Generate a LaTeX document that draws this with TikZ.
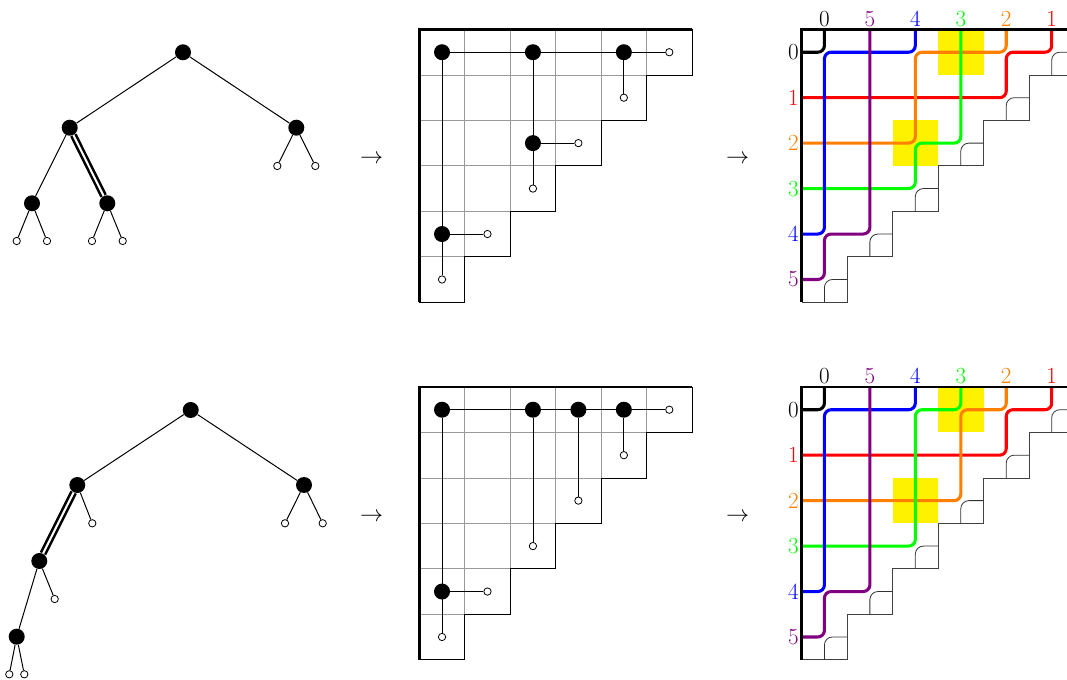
\documentclass[tikz,border=0pt]{standalone}
\usepackage{fontspec}
\begin{document}
\begin{tikzpicture}[x=0.75pt,y=-0.75pt,
 bdot/.style={circle,fill=black,inner sep=0pt,minimum size=12pt},
 wdot/.style={circle,draw=black,fill=white,inner sep=0pt,minimum size=5.5pt,line width=0.6pt},
 tedge/.style={line width=0.75pt},
 dedge/.style={double=white,line width=1.9pt,double distance=1.5pt},
 gridin/.style={black!40,line width=0.6pt},
 gridout/.style={black,line width=0.6pt},
 thickframe/.style={line width=2.2pt},
 conn/.style={line width=0.6pt},
 pipe/.style={line width=2.3pt,rounded corners=5pt},
 tileline/.style={black!75,line width=0.6pt},
 elbowline/.style={black!80,line width=0.6pt,rounded corners=6pt},
 lab/.style={font=\fontsize{17.3}{20}\selectfont},
 toplab/.style={lab,anchor=base,inner sep=0pt,yshift=2.5pt},
 leftlab/.style={lab,anchor=east,inner sep=0pt,xshift=-2pt},
 hl/.style={fill=yellow}]
\useasboundingbox (0,0) rectangle (1067,680);
\clip (0,0) rectangle (1067,680);

% ---------------- top tree ----------------
\node[bdot] (tr) at (183,52.3) {};
\node[bdot] (ta) at (69.7,127.7) {};
\node[bdot] (tb) at (296.3,127.7) {};
\node[bdot] (taa) at (32,203.3) {};
\node[bdot] (tab) at (107.3,203.3) {};
\node[wdot] (taa1) at (16.7,241) {};
\node[wdot] (taa2) at (47,241) {};
\node[wdot] (tab1) at (92,241) {};
\node[wdot] (tab2) at (122.7,241) {};
\node[wdot] (tb1) at (277.3,166) {};
\node[wdot] (tb2) at (315.3,166) {};
\draw[tedge] (tr) -- (ta);
\draw[tedge] (tr) -- (tb);
\draw[tedge] (ta) -- (taa);
\draw[dedge] (ta) -- (tab);
\draw[tedge] (taa) -- (taa1);
\draw[tedge] (taa) -- (taa2);
\draw[tedge] (tab) -- (tab1);
\draw[tedge] (tab) -- (tab2);
\draw[tedge] (tb) -- (tb1);
\draw[tedge] (tb) -- (tb2);

% ---------------- bottom tree ----------------
\node[bdot] (br) at (190.7,410) {};
\node[bdot] (ba) at (77.3,485) {};
\node[bdot] (bb) at (304,485) {};
\node[wdot] (ba2) at (92.3,523.3) {};
\node[wdot] (bb1) at (285,523.3) {};
\node[wdot] (bb2) at (322.7,523.3) {};
\node[bdot] (baa) at (39.3,561) {};
\node[wdot] (baa2) at (54.7,599) {};
\node[bdot] (baaa) at (16.7,636.7) {};
\node[wdot] (baaa1) at (9.3,674.3) {};
\node[wdot] (baaa2) at (24.3,674.3) {};
\draw[tedge] (br) -- (ba);
\draw[tedge] (br) -- (bb);
\draw[tedge] (ba) -- (ba2);
\draw[tedge] (bb) -- (bb1);
\draw[tedge] (bb) -- (bb2);
\draw[dedge] (ba) -- (baa);
\draw[tedge] (baa) -- (baa2);
\draw[tedge] (baa) -- (baaa);
\draw[tedge] (baaa) -- (baaa1);
\draw[tedge] (baaa) -- (baaa2);

% ---------------- arrows ----------------
\node[lab] (arr1) at (371.7,159.3) {$\rightarrow$};
\node[lab] (arr2) at (737.7,159.3) {$\rightarrow$};
\node[lab] (arr3) at (371.7,516.8) {$\rightarrow$};
\node[lab] (arr4) at (737.7,516.8) {$\rightarrow$};

% ---------------- middle grids ----------------
\foreach \yy in {22.125,290.25}{
\begin{scope}[xshift=314.475pt,yshift=-\yy pt,x=34.09pt,y=-34.09pt]
  \foreach \k in {1,...,5}{
    \draw[gridin] (0,\k) -- ({6-\k},\k);
    \draw[gridin] (\k,0) -- (\k,{6-\k});
  }
  \draw[gridout] (6,0) -- (6,1) -- (5,1) -- (5,2) -- (4,2) -- (4,3) -- (3,3) -- (3,4) -- (2,4) -- (2,5) -- (1,5) -- (1,6) -- (0,6);
  \draw[thickframe] (0,6) -- (0,0) -- (6,0);
\end{scope}
}

\begin{scope}[xshift=314.475pt,yshift=-22.125pt,x=34.09pt,y=-34.09pt]
  \node[bdot] (ma00) at (0.5,0.5) {};
  \node[bdot] (ma02) at (2.5,0.5) {};
  \node[bdot] (ma04) at (4.5,0.5) {};
  \node[bdot] (ma22) at (2.5,2.5) {};
  \node[bdot] (ma40) at (0.5,4.5) {};
  \node[wdot] (ma05) at (5.5,0.5) {};
  \node[wdot] (ma14) at (4.5,1.5) {};
  \node[wdot] (ma23) at (3.5,2.5) {};
  \node[wdot] (ma32) at (2.5,3.5) {};
  \node[wdot] (ma41) at (1.5,4.5) {};
  \node[wdot] (ma50) at (0.5,5.5) {};
  \draw[conn] (ma00) -- (ma05);
  \draw[conn] (ma00) -- (ma50);
  \draw[conn] (ma02) -- (ma32);
  \draw[conn] (ma22) -- (ma23);
  \draw[conn] (ma04) -- (ma14);
  \draw[conn] (ma40) -- (ma41);
\end{scope}

\begin{scope}[xshift=314.475pt,yshift=-290.25pt,x=34.09pt,y=-34.09pt]
  \node[bdot] (mb00) at (0.5,0.5) {};
  \node[bdot] (mb02) at (2.5,0.5) {};
  \node[bdot] (mb03) at (3.5,0.5) {};
  \node[bdot] (mb04) at (4.5,0.5) {};
  \node[bdot] (mb40) at (0.5,4.5) {};
  \node[wdot] (mb05) at (5.5,0.5) {};
  \node[wdot] (mb14) at (4.5,1.5) {};
  \node[wdot] (mb23) at (3.5,2.5) {};
  \node[wdot] (mb32) at (2.5,3.5) {};
  \node[wdot] (mb41) at (1.5,4.5) {};
  \node[wdot] (mb50) at (0.5,5.5) {};
  \draw[conn] (mb00) -- (mb05);
  \draw[conn] (mb00) -- (mb50);
  \draw[conn] (mb02) -- (mb32);
  \draw[conn] (mb03) -- (mb23);
  \draw[conn] (mb04) -- (mb14);
  \draw[conn] (mb40) -- (mb41);
\end{scope}

% ---------------- pipe dreams: common parts ----------------
\foreach \yy in {22.125,290.25}{
\begin{scope}[xshift=601.275pt,yshift=-\yy pt,x=34.09pt,y=-34.09pt]
  \fill[hl] (3,0) rectangle (4,1);
  \fill[hl] (2,2) rectangle (3,3);
  \draw[tileline] (6,0) -- (6,1) -- (5,1) -- (5,2) -- (4,2) -- (4,3) -- (3,3) -- (3,4) -- (2,4) -- (2,5) -- (1,5) -- (1,6) -- (0,6);
  \foreach \r in {0,...,5}{
    \pgfmathtruncatemacro\cc{5-\r}
    \draw[elbowline] (\cc+0.5,\r+1) -- (\cc+0.5,\r+0.5) -- (\cc+1,\r+0.5);
  }
  \draw[pipe,black] (0.5,0) -- (0.5,0.5) -- (0,0.5);
  \draw[pipe,red] (5.5,0) -- (5.5,0.5) -- (4.5,0.5) -- (4.5,1.5) -- (0,1.5);
\end{scope}
}

% top pipe dream
\begin{scope}[xshift=601.275pt,yshift=-22.125pt,x=34.09pt,y=-34.09pt]
  \draw[pipe,orange] (4.5,0) -- (4.5,0.5) -- (2.5,0.5) -- (2.5,2.5) -- (0,2.5);
  \draw[pipe,green] (3.5,0) -- (3.5,2.5) -- (2.5,2.5) -- (2.5,3.5) -- (0,3.5);
  \draw[pipe,blue] (2.5,0) -- (2.5,0.5) -- (0.5,0.5) -- (0.5,4.5) -- (0,4.5);
  \draw[pipe,violet] (1.5,0) -- (1.5,4.5) -- (0.5,4.5) -- (0.5,5.5) -- (0,5.5);
  \draw[thickframe] (0,6) -- (0,0) -- (6.5,0);
  \node[toplab,text=black] (pat0) at (0.5,0) {0};
  \node[toplab,text=violet] (pat1) at (1.5,0) {5};
  \node[toplab,text=blue] (pat2) at (2.5,0) {4};
  \node[toplab,text=green] (pat3) at (3.5,0) {3};
  \node[toplab,text=orange] (pat4) at (4.5,0) {2};
  \node[toplab,text=red] (pat5) at (5.5,0) {1};
  \node[leftlab,text=black] (pal0) at (0,0.5) {0};
  \node[leftlab,text=red] (pal1) at (0,1.5) {1};
  \node[leftlab,text=orange] (pal2) at (0,2.5) {2};
  \node[leftlab,text=green] (pal3) at (0,3.5) {3};
  \node[leftlab,text=blue] (pal4) at (0,4.5) {4};
  \node[leftlab,text=violet] (pal5) at (0,5.5) {5};
\end{scope}

% bottom pipe dream
\begin{scope}[xshift=601.275pt,yshift=-290.25pt,x=34.09pt,y=-34.09pt]
  \draw[pipe,orange] (4.5,0) -- (4.5,0.5) -- (3.5,0.5) -- (3.5,2.5) -- (0,2.5);
  \draw[pipe,green] (3.5,0) -- (3.5,0.5) -- (2.5,0.5) -- (2.5,3.5) -- (0,3.5);
  \draw[pipe,blue] (2.5,0) -- (2.5,0.5) -- (0.5,0.5) -- (0.5,4.5) -- (0,4.5);
  \draw[pipe,violet] (1.5,0) -- (1.5,4.5) -- (0.5,4.5) -- (0.5,5.5) -- (0,5.5);
  \draw[thickframe] (0,6) -- (0,0) -- (6.5,0);
  \node[toplab,text=black] (pbt0) at (0.5,0) {0};
  \node[toplab,text=violet] (pbt1) at (1.5,0) {5};
  \node[toplab,text=blue] (pbt2) at (2.5,0) {4};
  \node[toplab,text=green] (pbt3) at (3.5,0) {3};
  \node[toplab,text=orange] (pbt4) at (4.5,0) {2};
  \node[toplab,text=red] (pbt5) at (5.5,0) {1};
  \node[leftlab,text=black] (pbl0) at (0,0.5) {0};
  \node[leftlab,text=red] (pbl1) at (0,1.5) {1};
  \node[leftlab,text=orange] (pbl2) at (0,2.5) {2};
  \node[leftlab,text=green] (pbl3) at (0,3.5) {3};
  \node[leftlab,text=blue] (pbl4) at (0,4.5) {4};
  \node[leftlab,text=violet] (pbl5) at (0,5.5) {5};
\end{scope}
\end{tikzpicture}
\end{document}
